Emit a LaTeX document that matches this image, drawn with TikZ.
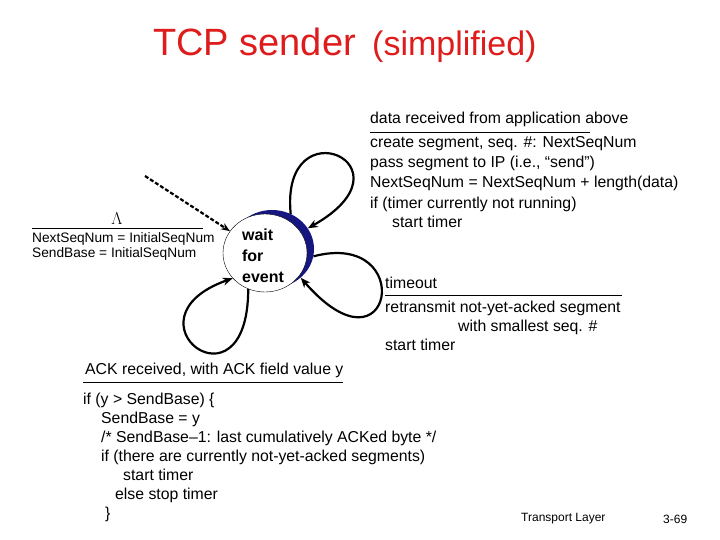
\documentclass[tikz,border=0pt]{standalone}
\usepackage{fontspec}
\setmainfont{Liberation Sans}
\usetikzlibrary{shapes.geometric,arrows.meta}

\definecolor{titlered}{RGB}{222,28,28}
\definecolor{shadowblue}{RGB}{22,22,128}

\newcommand{\txtfont}{\fontsize{15.8}{15.8}\selectfont}
\newcommand{\initfont}{\fontsize{13.7}{13.7}\selectfont}

\tikzset{
  state/.style={ellipse, draw, thin, fill=white, minimum width=84pt, minimum height=78pt, inner sep=0pt},
  stateshadow/.style={ellipse, fill=shadowblue, minimum width=84pt, minimum height=78pt, inner sep=0pt},
  statetext/.style={align=left, font=\fontsize{16}{21}\selectfont\bfseries, inner sep=0pt},
  looparrow/.style={line width=2.2pt, -{Stealth[length=10pt,width=8pt]}},
  lbl/.style={anchor=base west, inner sep=0pt}
}

\begin{document}
\begin{tikzpicture}[x=1pt, y=-1pt]
    \useasboundingbox (0,0) rectangle (720,540);

    % Title
    \node[lbl, font=\fontsize{38}{38}\selectfont, text=titlered] (title) at (153,56) {TCP sender};
    \node[lbl, font=\fontsize{34}{34}\selectfont, text=titlered] (subtitle) at (372,56) {(simplified)};

    % State with its blue shadow
    \node[stateshadow] (shadow) at (272,249) {};
    \node[state] (wait) at (265,253) {};
    \node[statetext] (waittxt) at (263,256) {wait\\for\\event};

    % Initial transition
    \coordinate (init) at (145,176);
    \draw[line width=2.2pt, dash pattern=on 4pt off 2pt, -{Stealth[length=9pt,width=7pt]}] (init) -- (wait.148);
    \node[anchor=base, inner sep=0pt, font=\fontsize{16}{16}\selectfont] (lambda) at (117,225) {$\Lambda$};
    \draw (32,228) -- (203,228);
    \node[lbl, font=\initfont] (init1) at (32,243) {NextSeqNum = InitialSeqNum};
    \node[lbl, font=\initfont] (init2) at (32,258) {SendBase = InitialSeqNum};

    % Self-loops
    \draw[looparrow] (shadow.62) .. controls (280,104) and (420,165) .. (shadow.30);
    \draw[looparrow] (shadow.-10) .. controls (418,229) and (393,384) .. (shadow.-45);
    \draw[looparrow] (wait.-115) .. controls (248,419) and (118,319) .. (wait.218);

    % Data received from application
    \node[lbl, font=\txtfont] (dataev) at (370,124) {data received from application above};
    \draw (370,132) -- (590,132);
    \foreach \n/\x/\y/\t in {
      1/370/148/{create segment, seq. \#: NextSeqNum},
      2/370/168/{pass segment to IP (i.e., “send”)},
      3/370/188/{NextSeqNum = NextSeqNum + length(data)},
      4/370/208/{if (timer currently not running)},
      5/392/228/{start timer}}
      \node[lbl, font=\txtfont] (data\n) at (\x,\y) {\t};

    % Timeout
    \node[lbl, font=\txtfont] (timeoutev) at (385,288) {timeout};
    \draw (385,295) -- (622,295);
    \foreach \n/\x/\y/\t in {
      1/385/312/{retransmit not-yet-acked segment},
      2/458/331/{with smallest seq. \#},
      3/385/350/{start timer}}
      \node[lbl, font=\txtfont] (timeout\n) at (\x,\y) {\t};

    % ACK received
    \node[lbl, font=\txtfont] (ackev) at (85,374) {ACK received, with ACK field value y};
    \draw (83,382) -- (343,382);
    \foreach \n/\x/\y/\t in {
      1/83/404/{if (y > SendBase) \{},
      2/101/423/{SendBase = y},
      3/101/442/{/* SendBase--1: last cumulatively ACKed byte */},
      4/101/461/{if (there are currently not-yet-acked segments)},
      5/123/480/{start timer},
      6/115/499/{else stop timer},
      7/105/518/{\}}}
      \node[lbl, font=\txtfont] (ack\n) at (\x,\y) {\t};

    % Footer
    \node[lbl, font=\fontsize{12}{12}\selectfont] (footer) at (521,521) {Transport Layer};
    \node[lbl, font=\fontsize{12}{12}\selectfont] (slideno) at (663,523) {3-69};
\end{tikzpicture}
\end{document}
